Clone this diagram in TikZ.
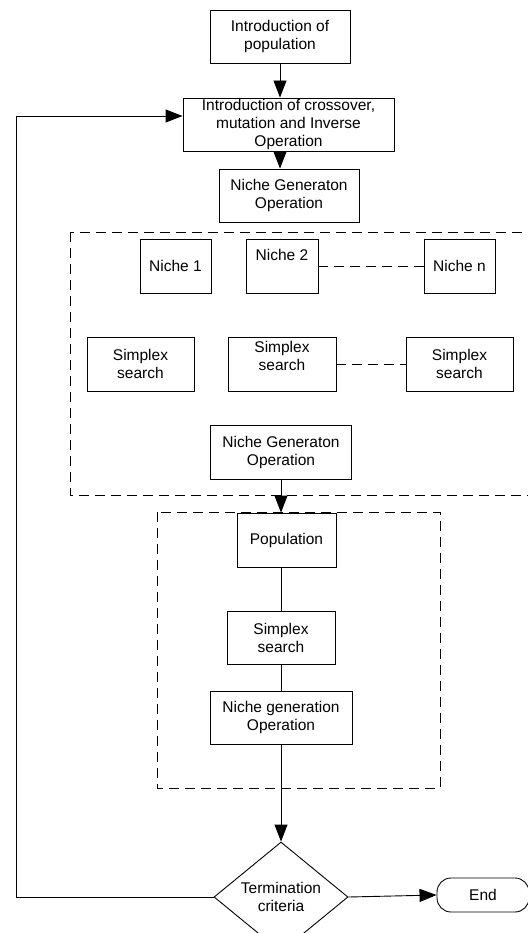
\documentclass[tikz,border=0pt]{standalone}
\usepackage{fontspec}
\setmainfont{Liberation Sans}
\usetikzlibrary{shapes,arrows.meta,positioning,calc}

\begin{document}
\begin{tikzpicture}[
  x=1pt, y=-1pt,
  font=\fontsize{15.5}{18}\selectfont,
  box/.style={draw, rectangle, line width=0.9pt, align=center, inner sep=1pt},
  group/.style={draw, line width=0.9pt, dash pattern=on 10pt off 6pt},
  flow/.style={draw, line width=0.9pt, -{Triangle[length=17pt,width=13pt]}},
  link/.style={draw, line width=0.9pt},
]
\useasboundingbox (0,0) rectangle (527,933);

% top of the flow
\node[box, minimum width=140pt, minimum height=53pt] (intro) at (280,36.5) {Introduction of\\population};
\node[box, minimum width=211pt, minimum height=53pt, inner sep=0pt] (ops) at (288.5,124.5) {Introduction of crossover,\\mutation and Inverse\\Operation};
\node[box, minimum width=140pt, minimum height=53pt] (gen1) at (289,195.5) {Niche Generaton\\Operation};

% niche group
\draw[group] (70,232) rectangle (545,495);
\node[box, minimum width=71pt, minimum height=54pt] (niche1) at (175.5,266) {Niche 1};
\node[box, minimum width=72pt, minimum height=54pt, text depth=22pt] (niche2) at (282,266) {Niche 2};
\node[box, minimum width=71pt, minimum height=54pt] (nichen) at (459.5,266) {Niche n};
\node[box, minimum width=107pt, minimum height=54pt] (simplex1) at (140.5,364) {Simplex\\search};
\node[box, minimum width=108pt, minimum height=54pt, text depth=16pt] (simplex2) at (282,364) {Simplex\\search};
\node[box, minimum width=107pt, minimum height=54pt] (simplex3) at (459.5,364) {Simplex\\search};
\node[box, minimum width=141pt, minimum height=54pt] (gen2) at (281,452) {Niche Generaton\\Operation};

% population group
\draw[group] (157,512) rectangle (440,788);
\node[box, minimum width=99pt, minimum height=54pt] (pop) at (286.5,540) {Population};
\node[box, minimum width=108pt, minimum height=53pt] (simplexb) at (281,637.5) {Simplex\\search};
\node[box, minimum width=142pt, minimum height=53pt] (gen3) at (281,717.5) {Niche generation\\Operation};

% decision
\node[draw, diamond, line width=0.9pt, align=center, inner sep=0pt, aspect=1.22,
  minimum width=134pt, minimum height=110pt] (term) at (281,897) {Termination\\criteria};
\node[draw, rectangle, rounded corners=14pt, line width=0.9pt,
  minimum width=92pt, minimum height=34pt] (end) at (483,895) {End};
\coordinate (loop) at (16,897);

\draw[flow] (intro.south) -- (intro.south |- ops.north);
\draw[flow] (ops.south -| intro.south) -- (gen1.north -| intro.south);
\draw[link, dash pattern=on 10pt off 6pt] (niche2) -- (nichen);
\draw[link, dash pattern=on 10pt off 6pt] (simplex2) -- (simplex3);
\draw[flow] (gen2.south) -- (gen2.south |- pop.north);
\draw[link] (pop.south -| simplexb.north) -- (simplexb.north);
\draw[link] (simplexb) -- (gen3);
\draw[flow] (gen3) -- (term);
\draw[flow] (term.east) -- (end.west);
\draw[flow] (term.west) -- (loop) |- ([yshift=8.5pt]ops.west);
\end{tikzpicture}
\end{document}
